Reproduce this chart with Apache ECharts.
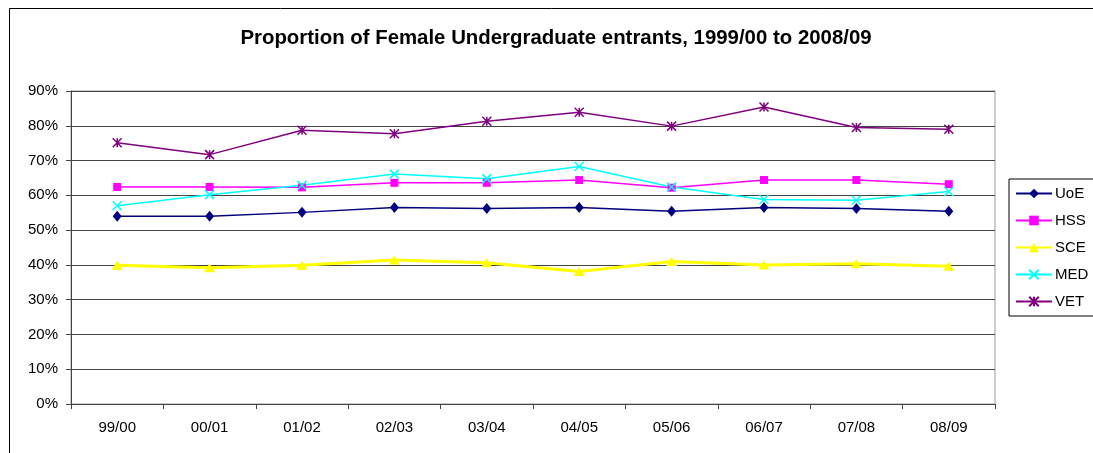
<!DOCTYPE html>
<html>
<head>
<meta charset="utf-8">
<script src="https://cdn.jsdelivr.net/npm/echarts@6/dist/echarts.min.js"></script>
<style>
  html, body { margin: 0; padding: 0; background: #fff; }
  #chart { width: 1093px; height: 453px; }
</style>
</head>
<body>
<div id="chart"></div>
<script>
const categories = ['99/00', '00/01', '01/02', '02/03', '03/04', '04/05', '05/06', '06/07', '07/08', '08/09']
const uoe = [54.0, 54.0, 55.1, 56.5, 56.2, 56.5, 55.4, 56.5, 56.2, 55.4]
const hss = [62.4, 62.4, 62.3, 63.6, 63.6, 64.4, 62.2, 64.4, 64.4, 63.2]
const sce = [39.9, 39.2, 39.9, 41.4, 40.6, 38.1, 41.0, 40.0, 40.3, 39.6]
const med = [57.0, 60.2, 62.9, 66.1, 64.8, 68.3, 62.4, 58.8, 58.6, 61.1]
const vet = [75.1, 71.7, 78.7, 77.7, 81.3, 83.9, 79.9, 85.4, 79.5, 79.0]

const FONT = '"Liberation Sans", Arial, sans-serif'
const crossPath = 'path://M0,0 L10,10 M10,0 L0,10'
const starPath = 'path://M0,0 L10,10 M10,0 L0,10 M5,0 L5,10'

function makeSeries(name, data, color, symbol, symbolSize, width, stroke) {
  return {
    name,
    type: 'line',
    data,
    symbol,
    symbolSize,
    showSymbol: true,
    lineStyle: { color, width },
    itemStyle: stroke
      ? { color, borderColor: color, borderWidth: 1.5 }
      : { color, borderWidth: 0 },
    emphasis: { disabled: true }
  }
}

const chart = echarts.init(document.getElementById('chart'))

chart.setOption({
  animation: false,
  textStyle: { fontFamily: FONT },
  graphic: [
    {
      type: 'rect',
      shape: { x: 9.5, y: 8.5, width: 1200, height: 600 },
      style: { fill: 'none', stroke: '#000', lineWidth: 1 },
      silent: true
    }
  ],
  title: {
    text: 'Proportion of Female Undergraduate entrants, 1999/00 to 2008/09',
    left: 551,
    top: 23,
    textAlign: 'center',
    textStyle: {
      fontFamily: FONT,
      fontSize: 20.4,
      fontWeight: 'bold',
      color: '#000'
    }
  },
  legend: {
    orient: 'vertical',
    left: 1009,
    top: 179,
    padding: [7, 60, 7, 6],
    borderColor: '#000',
    borderWidth: 1,
    itemWidth: 36,
    itemHeight: 12,
    itemGap: 12,
    textStyle: { fontFamily: FONT, fontSize: 15, color: '#000', padding: [0, 0, 0, -2] },
    data: ['UoE', 'HSS', 'SCE', 'MED', 'VET']
  },
  grid: {
    left: 71,
    right: 98,
    top: 91,
    bottom: 49,
    show: true,
    borderColor: '#999',
    borderWidth: 1,
    backgroundColor: 'transparent'
  },
  xAxis: {
    type: 'category',
    data: categories,
    boundaryGap: true,
    axisLine: { lineStyle: { color: '#444', width: 1 } },
    axisTick: { show: true, length: 5, lineStyle: { color: '#444' } },
    axisLabel: { color: '#000', fontSize: 15, margin: 16, fontFamily: FONT },
    splitLine: { show: false }
  },
  yAxis: {
    type: 'value',
    min: 0,
    max: 90,
    interval: 10,
    axisLine: { show: true, lineStyle: { color: '#444', width: 1 } },
    axisTick: { show: true, length: 5, lineStyle: { color: '#444' } },
    axisLabel: { color: '#000', fontSize: 15, margin: 13, fontFamily: FONT, formatter: '{value}%' },
    splitLine: { lineStyle: { color: '#444', width: 1 } }
  },
  series: [
    makeSeries('UoE', uoe, '#000080', 'diamond', [9, 11], 1.5, false),
    makeSeries('HSS', hss, '#FF00FF', 'rect', 8, 1.5, false),
    makeSeries('SCE', sce, '#FFFF00', 'triangle', [11, 9], 3, false),
    makeSeries('MED', med, '#00FFFF', crossPath, 9, 1.5, true),
    makeSeries('VET', vet, '#800080', starPath, 9, 1.5, true)
  ]
})
</script>
</body>
</html>
